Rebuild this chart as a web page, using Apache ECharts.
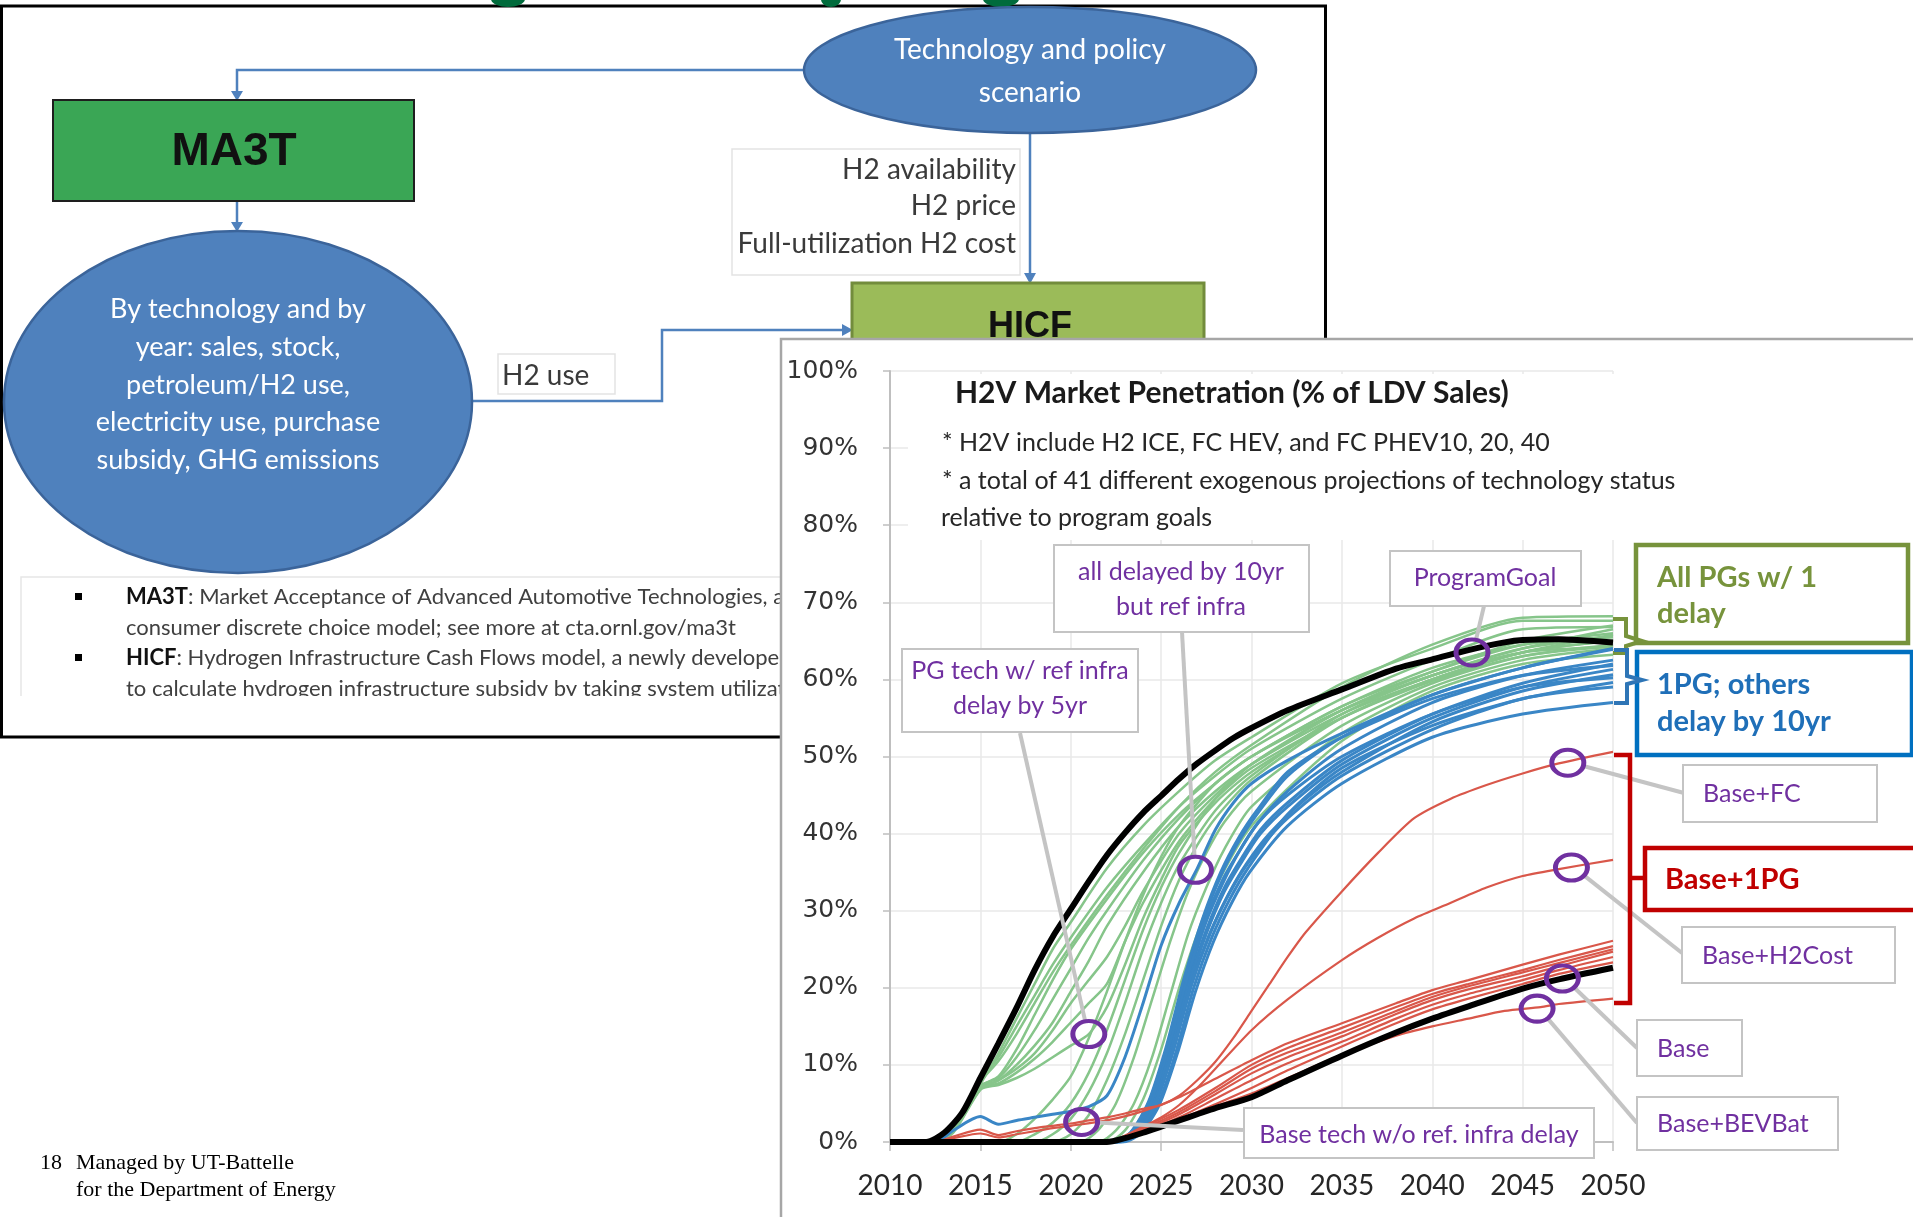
<!DOCTYPE html>
<html>
<head>
	<meta charset="utf-8" />
	<title>H2V Market Penetration</title>
	<script src="https://cdn.jsdelivr.net/npm/echarts@6/dist/echarts.min.js"></script>
	<style>
		html, body { margin: 0; padding: 0; background: #fff; }
		#main { width: 1913px; height: 1217px; }
	</style>
</head>
<body>
	<div id="main"></div>
	<script type="text/javascript">

		// ---- data: [year, % of LDV sales] ----
		var PROGRAM_GOAL = [[2010,0],[2012,0],[2013,1.2],[2014,3.8],[2015,8.3],[2016,12.8],[2017,17.4],[2018,22.3],[2019,26.6],[2020,30.2],[2021,33.8],[2022,37.2],[2023,40.1],[2024,42.7],[2025,44.9],[2026,47.1],[2027,49.1],[2028,50.8],[2029,52.4],[2030,53.7],[2032,56],[2035,58.7],[2038,61.4],[2040,62.6],[2042,63.8],[2044,64.8],[2045,65.1],[2047,65.2],[2048,65.1],[2050,64.8]];
		var BASE = [[2010,0],[2022,0],[2023,0.5],[2024,1.2],[2025,2],[2026,2.8],[2027,3.6],[2028,4.4],[2030,5.8],[2032,8],[2035,11.2],[2038,14.2],[2040,16],[2042,17.6],[2045,19.9],[2047,21.1],[2050,22.6]];

		// all PGs with one delay
		var GREEN_RUNS = [
			[[2010,0],[2012,0],[2013,1],[2014,3.5],[2015,7.5],[2016,11.5],[2017,16],[2018,20.5],[2019,25],[2020,28.5],[2022,35.5],[2024,41],[2026,45.5],[2028,49.5],[2030,52.5],[2035,59.5],[2040,64],[2045,67.6],[2050,67.6]],
			[[2010,0],[2012.5,0],[2013.5,1.5],[2015,7.3],[2016,8.3],[2017,11],[2018,14.5],[2019,18.5],[2020,22.5],[2021,26.5],[2022,30],[2024,36.5],[2026,42],[2028,46.5],[2030,50],[2035,56],[2040,60.5],[2045,64],[2050,66.5]],
			[[2010,0],[2012.5,0],[2013.5,1.5],[2015,7],[2016,8],[2017,10],[2018,12.5],[2019,15.5],[2020,19.5],[2021,23.5],[2022,28],[2024,35],[2026,41],[2028,45.5],[2030,49],[2035,55.5],[2040,60],[2045,63.5],[2050,65.8]],
			[[2010,0],[2012.5,0],[2013.5,1.5],[2015,7],[2016,7.6],[2017,9],[2018,10.8],[2019,13],[2020,15.5],[2021,18],[2022,20.5],[2023,26],[2024,31],[2026,39],[2028,44.5],[2030,48.5],[2035,55],[2040,59.8],[2045,63],[2050,64.3]],
			[[2010,0],[2012.5,0],[2013.5,1.3],[2015,6.8],[2016,7.4],[2017,8.3],[2018,9.5],[2019,11],[2020,12.5],[2021,14],[2022,17.5],[2023,23],[2024,29],[2025,34],[2026,38.5],[2028,44],[2030,48],[2035,55],[2040,60],[2045,63.5],[2050,65]],
			[[2010,0],[2016,0],[2017,1],[2018,3],[2019,5.5],[2020,8.5],[2021,13.5],[2022,19.5],[2023,26],[2024,32],[2025,37],[2026,41],[2028,46.5],[2030,50],[2035,56.5],[2040,61],[2045,64.5],[2050,66]],
			[[2010,0],[2017,0],[2018,1],[2019,2.5],[2020,5],[2021,9],[2022,14.5],[2023,21],[2024,27.5],[2025,33],[2026,37.5],[2028,44.5],[2030,49],[2035,56],[2040,60.5],[2045,64],[2050,65.5]],
			[[2010,0],[2019,0],[2020,1],[2021,3.5],[2022,8],[2023,14],[2024,21],[2025,28],[2026,34],[2027,38.5],[2028,42],[2030,47],[2035,55],[2040,60],[2045,63.5],[2050,65]],
			[[2010,0],[2020.5,0],[2021.5,1.5],[2022.5,5],[2023.5,11],[2024.5,18.5],[2025.5,26],[2026.5,32.5],[2027.5,37.5],[2028.5,41.5],[2030,45.5],[2035,54],[2040,59.5],[2045,63],[2050,64.5]],
			[[2010,0],[2021.5,0],[2022.5,1.5],[2023.5,5],[2024.5,11],[2025.5,19],[2026.5,27],[2027.5,33],[2028.5,38],[2030,43.5],[2035,53],[2040,59],[2045,62.5],[2050,64]],
			[[2010,0],[2012,0],[2013,1],[2014,3.5],[2015,7.8],[2016,11],[2017,15],[2018,19],[2019,23],[2020,26.5],[2022,33],[2024,38.5],[2026,43.5],[2028,47.5],[2030,51],[2035,57.5],[2040,62.5],[2045,66.5],[2050,66.8]],
			[[2010,0],[2012.5,0],[2013.5,1.5],[2015,7.2],[2016,8.5],[2017,12],[2018,16.5],[2019,21],[2020,25],[2022,31.5],[2024,37.5],[2026,42.5],[2028,46.5],[2030,50],[2035,56.5],[2040,61.5],[2045,64.5],[2050,65.5]],
			[[2010,0],[2018,0],[2019,1],[2020,3],[2021,6.5],[2022,11.5],[2023,18],[2024,25],[2025,31],[2026,36],[2028,43],[2030,47.5],[2035,55.5],[2040,60.5],[2045,63.5],[2050,64.2]],
			[[2010,0],[2022,0],[2023,1.5],[2024,5.5],[2025,12],[2026,20],[2027,27],[2028,33],[2030,41],[2035,52],[2040,58.5],[2045,62],[2050,63.2]],
			[[2010,0],[2012.5,0],[2013.5,1.2],[2015,6.8],[2016,8],[2017,9.5],[2018,11.5],[2019,14.5],[2020,18],[2021,21],[2022,24],[2023,28],[2024,32.5],[2026,40],[2028,45],[2030,49],[2035,56],[2040,61],[2045,65],[2050,67]],
			[[2010,0],[2012,0],[2013,1.1],[2014,3.6],[2015,7.8],[2016,10.5],[2017,14],[2018,18],[2019,22],[2020,25.5],[2022,32],[2024,38],[2026,43.5],[2028,48],[2030,51.5],[2035,59],[2040,64.5],[2045,68],[2050,68.2]]
		];

		// 1PG; others delay by 10yr (the first one is "all delayed by 10yr but ref infra")
		var BLUE_RUNS = [
			[[2010,0],[2012.5,0],[2013.5,1.5],[2015,3.3],[2016,2.3],[2017,2.8],[2018,3.2],[2019,3.6],[2020,4],[2021,4.6],[2022,6],[2023,11],[2024,18],[2025,25.5],[2026,31],[2027,35.5],[2028,40.5],[2029,44],[2030,46.5],[2032,49.5],[2035,53],[2040,58],[2045,61.5],[2050,63.9]],
			[[2010,0],[2022.3,0],[2023.3,1.2],[2024.3,5],[2025.3,12],[2026.3,21],[2027.3,28.5],[2028.3,34.5],[2029.3,39],[2030.3,42.5],[2032,47.5],[2035,52.5],[2040,58],[2045,61.5],[2050,64]],
			[[2010,0],[2022.4,0],[2023.4,1.2],[2024.4,5],[2025.4,12],[2026.4,20.5],[2027.4,28],[2028.4,33.5],[2029.4,38],[2030.4,41.5],[2032,45.5],[2035,51],[2040,57],[2045,60.5],[2050,62.5]],
			[[2010,0],[2022.5,0],[2023.5,1.2],[2024.5,5],[2025.5,12],[2026.5,20.5],[2027.5,27.5],[2028.5,33],[2029.5,37],[2030.5,40.5],[2032,44],[2035,49.5],[2040,55.5],[2045,59.5],[2050,62]],
			[[2010,0],[2022.5,0],[2023.5,1],[2024.5,4.6],[2025.5,11.5],[2026.5,20],[2027.5,27],[2028.5,32.5],[2029.5,36.5],[2030.5,40],[2032,43.5],[2035,49],[2040,55],[2045,59],[2050,61.3]],
			[[2010,0],[2022.7,0],[2023.7,1.2],[2024.7,5],[2025.7,12],[2026.7,20.5],[2027.7,27],[2028.7,32],[2029.7,36],[2031,40],[2033,44.5],[2035,48],[2040,54.5],[2045,58.5],[2050,60.6]],
			[[2010,0],[2022.4,0],[2023.4,1.2],[2024.4,5],[2025.4,12.3],[2026.4,21],[2027.4,28.5],[2028.4,34],[2029.4,38],[2030.4,41.5],[2032,45],[2035,50],[2040,55.5],[2045,59],[2050,60.2]],
			[[2010,0],[2022.8,0],[2023.8,1.2],[2024.8,4.8],[2025.8,11.5],[2026.8,20],[2027.8,26.5],[2028.8,31.5],[2029.8,35.5],[2032,42.5],[2035,48.5],[2040,54],[2045,57.5],[2050,59.6]],
			[[2010,0],[2022.6,0],[2023.6,1],[2024.6,4.6],[2025.6,11.5],[2026.6,20],[2027.6,26.5],[2028.6,31.5],[2029.6,35.5],[2030.6,38.5],[2032,42],[2035,47.5],[2040,53.5],[2045,57.5],[2050,59]],
			[[2010,0],[2022.9,0],[2023.9,1.2],[2024.9,4.8],[2025.9,11.5],[2026.9,19.5],[2027.9,26],[2028.9,31],[2029.9,35],[2032,41],[2035,46.5],[2040,52.5],[2045,55.5],[2050,57]],
			[[2010,0],[2022.3,0],[2023.3,1.2],[2024.3,5.2],[2025.3,12.5],[2026.3,21.5],[2027.3,29],[2028.3,35],[2029.3,39.5],[2030.3,43],[2032,48],[2035,52.5],[2040,57.5],[2045,60.5],[2050,61.8]]
		];

		// Base + one PG (Base+FC, Base+H2Cost, ..., Base+BEVBat)
		var RED_RUNS = [
			[[2010,0],[2012.5,0],[2013.5,0.7],[2015,1.6],[2016,0.9],[2017,1.4],[2018,1.8],[2019,2.1],[2020,2.4],[2021,2.8],[2022,3.2],[2023,3.7],[2024,4.3],[2025,4.8],[2026,6],[2027,8],[2028,10.4],[2029,13.5],[2030,17],[2031,20.5],[2032,24],[2033,27.2],[2035,32.5],[2037,37.5],[2039,42],[2041,44.5],[2043,46.3],[2045,47.8],[2047,49.1],[2050,50.6]],
			[[2010,0],[2022,0],[2023,0.8],[2024,2],[2025,3.2],[2026,4.8],[2027,7],[2028,9.5],[2030,14.5],[2032,18.5],[2035,23.6],[2037,26.5],[2039,29],[2041,31],[2043,33],[2045,34.5],[2047,35.4],[2050,36.6]],
			[[2010,0],[2012.5,0],[2013.5,0.5],[2015,1.1],[2016,0.6],[2017,1],[2018,1.4],[2019,1.8],[2020,2.1],[2022,2.8],[2024,4],[2026,5.8],[2028,8.2],[2030,10.6],[2032,12.8],[2035,15.4],[2038,18],[2040,19.7],[2042,21],[2045,23],[2047,24.3],[2050,26.1]],
			[[2010,0],[2022,0],[2023,0.8],[2024,1.9],[2026,4.2],[2028,7],[2030,10],[2032,12.2],[2035,14.8],[2038,17.5],[2040,19.2],[2042,20.5],[2045,22.3],[2047,23.6],[2050,25.4]],
			[[2010,0],[2022,0],[2023,0.7],[2024,1.7],[2026,3.9],[2028,6.6],[2030,9.5],[2032,11.6],[2035,14.2],[2038,17],[2040,18.8],[2042,20.2],[2045,22],[2047,23.2],[2050,25]],
			[[2010,0],[2022,0],[2023,0.6],[2024,1.5],[2026,3.6],[2028,6.2],[2030,8.9],[2032,11],[2035,13.7],[2038,16.6],[2040,18.4],[2042,19.8],[2045,21.5],[2047,22.8],[2050,24.7]],
			[[2010,0],[2022,0],[2023,0.5],[2024,1.3],[2026,3.2],[2028,5.6],[2030,8],[2032,10.2],[2035,13],[2038,16],[2040,17.8],[2042,19.2],[2045,21],[2047,22.3],[2050,24]],
			[[2010,0],[2022,0],[2023,0.5],[2024,1.2],[2026,2.9],[2028,4.9],[2030,7],[2032,9.3],[2035,12.4],[2038,15.4],[2040,17.2],[2042,18.6],[2045,20.5],[2047,21.8],[2050,23.3]],
			[[2010,0],[2022,0],[2023,0.5],[2024,1.2],[2026,2.8],[2028,4.6],[2030,6.3],[2032,8.3],[2035,11.3],[2038,13.8],[2040,15],[2042,16],[2044,17],[2046,17.5],[2047,17.9],[2050,18.6]]
		];

		// purple rings: PG tech, Base tech, all delayed, ProgramGoal, Base+FC, Base+H2Cost, Base, Base+BEVBat
		var RINGS = [[2021,14],[2020.6,2.6],[2026.9,35.3],[2042.2,63.5],[2047.5,49.2],[2047.7,35.6],[2047.2,21.2],[2045.8,17.3]];

		// ---- page drawing helpers ----
		var chart = echarts.init(document.getElementById('main'));
		var PURPLE = '#7030a0';

		function rect(x, y, w, h, fill, stroke, lw, z) {
			return {type:'rect', z:z, shape:{x:x, y:y, width:w, height:h},
				style:{fill:fill, stroke:stroke || null, lineWidth:lw || 0}};
		}
		function txt(x, y, s, font, color, align, z) {
			align = align || 'left';
			return {type:'text', z:z, style:{text:s, x:x, y:y, font:font, fill:color,
				align:align, textAlign:align, verticalAlign:'middle', textVerticalAlign:'middle'}};
		}
		function poly(points, color, lw, z) {
			return {type:'polyline', z:z, shape:{points:points}, style:{stroke:color, lineWidth:lw, fill:null}};
		}
		function tri(points, color, z) {
			return {type:'polygon', z:z, shape:{points:points}, style:{fill:color}};
		}
		function oval(cx, cy, rx, ry, fill, stroke, lw, z) {
			return {type:'ellipse', z:z, shape:{cx:cx, cy:cy, rx:rx, ry:ry}, style:{fill:fill, stroke:stroke, lineWidth:lw}};
		}
		function bullet(y, head, rest) {
			return {type:'text', z:-8, style:{text:'{b|' + head + '}' + rest,
				x:126, y:y, fontSize:22, fontFamily:'Lato', fill:'#404040',
				verticalAlign:'middle', textVerticalAlign:'middle',
				rich:{b:{fontSize:22, fontFamily:'Lato', fontWeight:'bold', fill:'#111'}}}};
		}

		var ARROW = '#4f81bd';
		var FLOW = [
			// slide frame and clipped title glyphs
			rect(1.5, 6, 1324, 731, null, '#000', 3, -10),
			oval(508, -1, 17, 8, '#006b3c', null, 0, -10),
			oval(831, -1, 10, 8, '#006b3c', null, 0, -10),
			oval(1001, -1, 18, 8, '#006b3c', null, 0, -10),
			// arrows
			poly([[804,70],[237,70],[237,93]], ARROW, 2.5, -10),
			tri([[231,91],[243,91],[237,101]], ARROW, -10),
			poly([[237,201],[237,223]], ARROW, 2.5, -10),
			tri([[231,222],[243,222],[237,232]], ARROW, -10),
			poly([[472,401],[662,401],[662,330],[843,330]], ARROW, 2.5, -10),
			tri([[842,324],[842,336],[853,330]], ARROW, -10),
			poly([[1030,134],[1030,274]], ARROW, 2.5, -10),
			tri([[1024,273],[1036,273],[1030,284]], ARROW, -10),
			// MA3T
			rect(53, 100, 361, 101, '#3aa655', '#1e1e1e', 2, -9),
			txt(234, 152, 'MA3T', 'bold 46px "Liberation Sans"', '#111', 'center', -8),
			// scenario ellipse
			oval(1030, 70, 226, 63, '#4f81bd', '#3b649a', 2.5, -9),
			txt(1030, 50, 'Technology and policy', '28px Lato', '#fff', 'center', -8),
			txt(1030, 93, 'scenario', '28px Lato', '#fff', 'center', -8),
			// big ellipse
			oval(238, 402, 234, 171, '#4f81bd', '#3b649a', 2.5, -9),
			txt(238, 309, 'By technology and by', '27px Lato', '#fff', 'center', -8),
			txt(238, 347, 'year: sales, stock,', '27px Lato', '#fff', 'center', -8),
			txt(238, 385, 'petroleum/H2 use,', '27px Lato', '#fff', 'center', -8),
			txt(238, 422, 'electricity use, purchase', '27px Lato', '#fff', 'center', -8),
			txt(238, 460, 'subsidy, GHG emissions', '27px Lato', '#fff', 'center', -8),
			// HICF
			rect(852, 283, 352, 100, '#9bbb59', '#728c3c', 3, -9),
			txt(1030, 327, 'HICF', 'bold 36px "Liberation Sans"', '#111', 'center', -8),
			// small text boxes
			rect(732, 149, 288, 126, '#fff', '#e3e3e3', 1.5, -9),
			txt(1016, 170, 'H2 availability', '28px Lato', '#3a3a3a', 'right', -8),
			txt(1016, 206, 'H2 price', '28px Lato', '#3a3a3a', 'right', -8),
			txt(1016, 244, 'Full-utilization H2 cost', '28px Lato', '#3a3a3a', 'right', -8),
			rect(498, 354, 117, 40, '#fff', '#e3e3e3', 1.5, -9),
			txt(502, 376, 'H2 use', '28px Lato', '#3a3a3a', 'left', -8),
			// bullets
			rect(21, 577, 780, 124, '#fff', '#e6e6e6', 1.5, -9),
			rect(75, 593, 7, 7, '#000', null, 0, -8),
			rect(75, 654, 7, 7, '#000', null, 0, -8),
			bullet(597, 'MA3T', ': Market Acceptance of Advanced Automotive Technologies, a'),
			txt(126, 628, 'consumer discrete choice model; see more at cta.ornl.gov/ma3t', '22px Lato', '#404040', 'left', -8),
			bullet(658, 'HICF', ': Hydrogen Infrastructure Cash Flows model, a newly developed'),
			txt(126, 689, 'to calculate hydrogen infrastructure subsidy by taking system utilization', '22px Lato', '#404040', 'left', -8),
			rect(20, 696, 770, 39, '#fff', null, 0, -7),
			// footer
			txt(40, 1163, '18', '22px "Liberation Serif"', '#000', 'left', -8),
			txt(76, 1163, 'Managed by UT-Battelle', '22px "Liberation Serif"', '#000', 'left', -8),
			txt(76, 1190, 'for the Department of Energy', '22px "Liberation Serif"', '#000', 'left', -8)
		];

		var PANEL = [
			rect(781, 339, 1140, 890, '#fff', '#a6a6a6', 2.5, -5),
			rect(908, 374, 870, 166, '#fff', null, 0, 1),
			txt(955, 393, 'H2V Market Penetration (% of LDV Sales)', 'bold 30px Lato', '#1a1a1a', 'left', 3),
			txt(942, 443, '* H2V include H2 ICE, FC HEV, and FC PHEV10, 20, 40', '25px Lato', '#262626', 'left', 3),
			txt(942, 481, '* a total of 41 different exogenous projections of technology status', '25px Lato', '#262626', 'left', 3),
			txt(941, 518, 'relative to program goals', '25px Lato', '#262626', 'left', 3),

			// callout boxes
			rect(1054, 545, 255, 87, '#fff', '#c4c4c4', 2, 20),
			txt(1181, 572, 'all delayed by 10yr', '25px Lato', PURPLE, 'center', 21),
			txt(1181, 607, 'but ref infra', '25px Lato', PURPLE, 'center', 21),
			rect(1390, 551, 191, 55, '#fff', '#c4c4c4', 2, 20),
			txt(1485, 578, 'ProgramGoal', '25px Lato', PURPLE, 'center', 21),
			rect(902, 649, 236, 83, '#fff', '#c4c4c4', 2, 20),
			txt(1020, 671, 'PG tech w/ ref infra', '25px Lato', PURPLE, 'center', 21),
			txt(1020, 706, 'delay by 5yr', '25px Lato', PURPLE, 'center', 21),
			rect(1244, 1108, 350, 50, '#fff', '#c4c4c4', 2, 20),
			txt(1419, 1135, 'Base tech w/o ref. infra delay', '25px Lato', PURPLE, 'center', 21),
			rect(1683, 765, 194, 57, '#fff', '#c4c4c4', 2, 20),
			txt(1703, 794, 'Base+FC', '25px Lato', PURPLE, 'left', 21),
			rect(1682, 927, 213, 56, '#fff', '#c4c4c4', 2, 20),
			txt(1702, 956, 'Base+H2Cost', '25px Lato', PURPLE, 'left', 21),
			rect(1637, 1020, 105, 56, '#fff', '#c4c4c4', 2, 20),
			txt(1657, 1049, 'Base', '25px Lato', PURPLE, 'left', 21),
			rect(1637, 1097, 201, 53, '#fff', '#c4c4c4', 2, 20),
			txt(1657, 1124, 'Base+BEVBat', '25px Lato', PURPLE, 'left', 21),

			// group labels and brackets
			rect(1636, 545, 272, 98, '#fff', '#77933c', 4.5, 20),
			txt(1657, 578, 'All PGs w/ 1', 'bold 29px Lato', '#77933c', 'left', 21),
			txt(1657, 614, 'delay', 'bold 29px Lato', '#77933c', 'left', 21),
			rect(1637, 652, 275, 103, '#fff', '#0070c0', 4.5, 20),
			txt(1657, 685, '1PG; others', 'bold 29px Lato', '#1f6fb8', 'left', 21),
			txt(1657, 722, 'delay by 10yr', 'bold 29px Lato', '#1f6fb8', 'left', 21),
			rect(1645, 848, 275, 62, '#fff', '#c00000', 4.5, 20),
			txt(1665, 880, 'Base+1PG', 'bold 29px Lato', '#c00000', 'left', 21),
			poly([[1613,619],[1626,619],[1626,636],[1642,641],[1626,646],[1626,653],[1613,653]], '#77933c', 4, 20),
			poly([[1614,650],[1627,650],[1627,676],[1642,680],[1627,684],[1627,703],[1614,703]], '#2e75b6', 4, 20),
			poly([[1614,755],[1630,755],[1630,1003],[1614,1003]], '#c00000', 4.5, 20),
			poly([[1630,878],[1646,878]], '#c00000', 4.5, 20)
		];

		// where each leader leaves its callout box (same order as RINGS)
		var LEADER_FROM = [[1020,733],[1243,1130],[1182,632],[1484,606],[1684,793],[1682,953],[1637,1048],[1637,1123]];

		var baseGraphic = FLOW.concat(PANEL);
		baseGraphic.forEach(function(el, i) { el.id = 'g' + i; });

		function runSeries(runs, color, width, z) {
			return runs.map(function(run) {
				return {type:'line', data:run, symbol:'none', smooth:0.25, z:z,
					lineStyle:{color:color, width:width}, silent:true};
			});
		}

		var series = []
			.concat(runSeries(GREEN_RUNS, '#86c58a', 2.5, 2))
			.concat(runSeries(BLUE_RUNS, '#3a86c6', 3, 3))
			.concat(runSeries(RED_RUNS, '#d9574a', 2.2, 4))
			.concat(runSeries([BASE, PROGRAM_GOAL], '#000', 6, 5));
		series.push({
			type:'scatter', data:RINGS, symbol:'circle', symbolSize:[32, 26], z:30, silent:true,
			itemStyle:{color:'rgba(0,0,0,0)', borderColor:PURPLE, borderWidth:4.5, opacity:1}
		});

		var option = {
			animation:false,
			backgroundColor:'#fff',
			grid:{left:890, right:300, top:371, bottom:75},
			xAxis:{
				type:'value', min:2010, max:2050, interval:5,
				axisLine:{show:true, lineStyle:{color:'#bfbfbf', width:2}},
				axisTick:{show:true, length:9, lineStyle:{color:'#bfbfbf', width:1.5}},
				axisLabel:{fontFamily:'Lato', fontSize:28, color:'#262626', margin:30,
					formatter:function(v) { return String(v); }},
				splitLine:{show:true, lineStyle:{color:'#e8e8e8', width:1.5}}
			},
			yAxis:{
				type:'value', min:0, max:100, interval:10,
				axisLine:{show:true, lineStyle:{color:'#bfbfbf', width:2}},
				axisTick:{show:true, length:7, lineStyle:{color:'#bfbfbf', width:1.5}},
				axisLabel:{formatter:'{value}%', fontFamily:'DejaVu Sans', fontSize:25, color:'#333', margin:32},
				splitLine:{show:true, lineStyle:{color:'#e8e8e8', width:1.5}}
			},
			graphic:{elements:baseGraphic},
			series:series
		};

		chart.setOption(option);

		// gray leader lines from the callouts to the rings, placed through the axes
		var leaders = LEADER_FROM.map(function(p, i) {
			var c = chart.convertToPixel({gridIndex:0}, RINGS[i]);
			var dx = p[0] - c[0], dy = p[1] - c[1];
			var d = Math.sqrt(dx * dx + dy * dy);
			return {type:'line', id:'leader' + i, z:15,
				shape:{x1:p[0], y1:p[1], x2:c[0] + dx / d * 15, y2:c[1] + dy / d * 12},
				style:{stroke:'#c4c4c4', lineWidth:4}};
		});
		chart.setOption({graphic:{elements:baseGraphic.concat(leaders)}});

	</script>
</body>
</html>
